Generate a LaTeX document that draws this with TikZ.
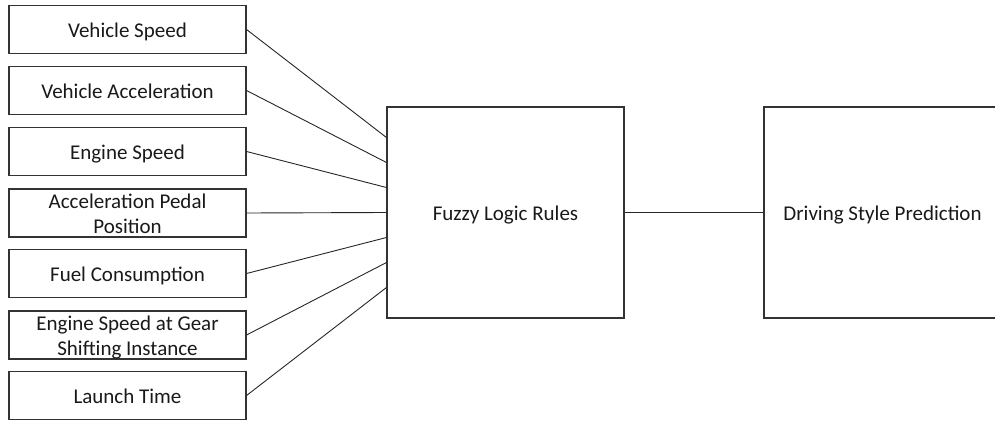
\documentclass[tikz,border=0pt]{standalone}
\usepackage{fontspec}
\setmainfont{Carlito}
\begin{document}
\begin{tikzpicture}[x=1pt,y=-1pt,
  txt/.style={align=center,font=\fontsize{21}{25}\selectfont,text=black!90,text height=15.6pt,text depth=0pt,inner sep=0pt},
  twoline/.style={text height=40.6pt,text depth=0pt},
  inbox/.style={txt,draw=black!80,line width=1.1pt,minimum width=237pt,minimum height=48pt},
  bigbox/.style={txt,draw=black!80,line width=1.1pt,minimum width=237pt,minimum height=211pt},
  link/.style={draw=black!85,line width=0.9pt}]
\useasboundingbox (0,0) rectangle (995,420);
\clip (0,0) rectangle (995,420);
\node[inbox] (b1) at (127.5,29.5) {Vehicle Speed};
\node[inbox] (b2) at (127.5,90.5) {Vehicle Acceleration};
\node[inbox] (b3) at (127.5,151.5) {Engine Speed};
\node[inbox,twoline] (b4) at (127.5,213) {Acceleration Pedal\\Position};
\node[inbox] (b5) at (127.5,273.5) {Fuel Consumption};
\node[inbox,twoline] (b6) at (127.5,335) {Engine Speed at Gear\\Shifting Instance};
\node[inbox] (b7) at (127.5,395.5) {Launch Time};
\node[bigbox] (F) at (505.5,212.5) {Fuzzy Logic Rules};
\node[bigbox] (D) at (882.5,212.5) {Driving Style Prediction};
\draw[link] (b1.east) -- ([yshift=75pt]F.west);
\draw[link] (b2.east) -- ([yshift=50pt]F.west);
\draw[link] (b3.east) -- ([yshift=25pt]F.west);
\draw[link] (b4.east) -- (F.west);
\draw[link] (b5.east) -- ([yshift=-25pt]F.west);
\draw[link] (b6.east) -- ([yshift=-50pt]F.west);
\draw[link] (b7.east) -- ([yshift=-75pt]F.west);
\draw[link] (F.east) -- (D.west);
\end{tikzpicture}
\end{document}
